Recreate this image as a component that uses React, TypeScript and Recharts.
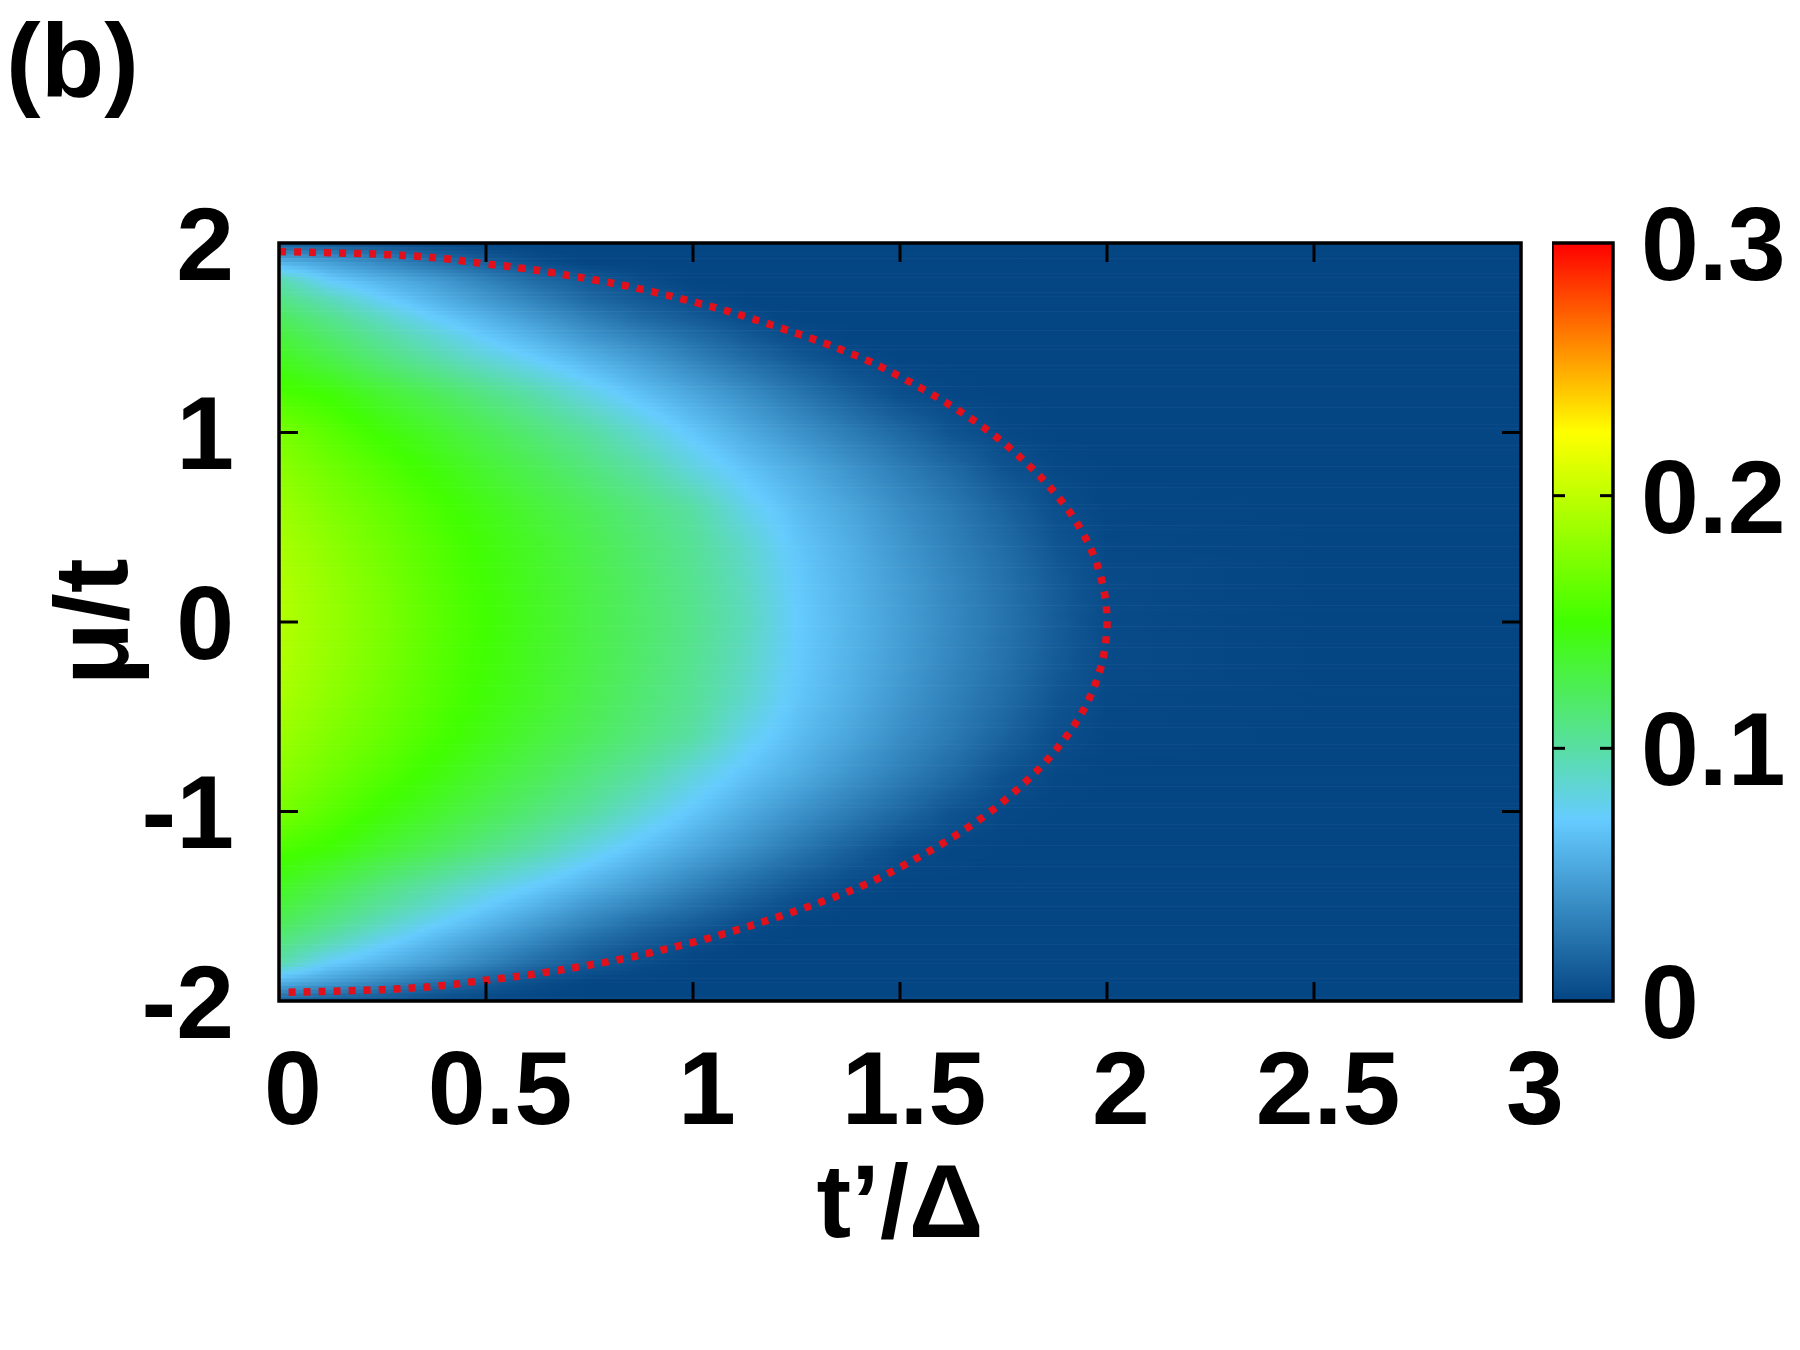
import {
  Customized,
  Label,
  ReferenceArea,
  ReferenceLine,
  Scatter,
  ScatterChart,
  XAxis,
  YAxis,
} from 'recharts';

const FONT = '"Liberation Sans", Arial, Helvetica, sans-serif';

// page / plot geometry
const W = 1800;
const H = 1350;
const PLOT_LEFT = 279;
const PLOT_TOP = 243;
const PLOT_W = 1242;
const PLOT_H = 758;
const Y_AXIS_W = 200;
const X_AXIS_H = 260;
const CB_LEFT = 1552;
const CB_W = 61;
const CB_AXIS_W = 187;
const TICK_PX = 19;

// axes
const T_MIN = 0;
const T_MAX = 3;
const MU_MIN = -2;
const MU_MAX = 2;
const xTicks = [0, 0.5, 1, 1.5, 2, 2.5, 3];
const yTicks = [-2, -1, 0, 1, 2];
const cbTicks = [0, 0.1, 0.2, 0.3];

// colour palette of the map (value -> colour)
const paletteValues = [0, 0.072, 0.15, 0.225, 0.3];
const paletteColors = ['#044583', '#66ccff', '#40ff00', '#ffff00', '#ff0000'];

// sampled map: columns in t'/Δ, rows in μ/t
const tPrimeGrid = [0, 0.125, 0.25, 0.375, 0.5, 0.625, 0.75, 0.875, 1, 1.125, 1.25, 1.375, 1.5, 1.625, 1.75, 1.875, 2, 2.5, 3];
const muGrid = [2, 1.9, 1.8, 1.7, 1.6, 1.5, 1.4, 1.2, 1, 0.8, 0.6, 0.4, 0.2, 0, -0.2, -0.4, -0.6, -0.8, -1, -1.2, -1.4, -1.5, -1.6, -1.7, -1.8, -1.9, -2];
const density = [
  [0.014, 0.010, 0.007, 0.002, 0, 0, 0, 0, 0, 0, 0, 0, 0, 0, 0, 0, 0, 0, 0],
  [0.058, 0.047, 0.035, 0.023, 0.013, 0.004, 0, 0, 0, 0, 0, 0, 0, 0, 0, 0, 0, 0, 0],
  [0.098, 0.072, 0.059, 0.047, 0.033, 0.020, 0.011, 0.004, 0, 0, 0, 0, 0, 0, 0, 0, 0, 0, 0],
  [0.110, 0.093, 0.074, 0.059, 0.045, 0.032, 0.019, 0.011, 0.004, 0, 0, 0, 0, 0, 0, 0, 0, 0, 0],
  [0.122, 0.107, 0.090, 0.073, 0.059, 0.045, 0.032, 0.020, 0.012, 0.004, 0, 0, 0, 0, 0, 0, 0, 0, 0],
  [0.132, 0.117, 0.102, 0.087, 0.071, 0.058, 0.044, 0.033, 0.022, 0.012, 0.004, 0, 0, 0, 0, 0, 0, 0, 0],
  [0.140, 0.126, 0.111, 0.097, 0.083, 0.070, 0.057, 0.045, 0.032, 0.020, 0.010, 0.003, 0, 0, 0, 0, 0, 0, 0],
  [0.155, 0.148, 0.135, 0.123, 0.110, 0.097, 0.081, 0.066, 0.053, 0.040, 0.027, 0.015, 0.005, 0.001, 0, 0, 0, 0, 0],
  [0.172, 0.160, 0.148, 0.137, 0.125, 0.113, 0.101, 0.085, 0.069, 0.055, 0.042, 0.030, 0.019, 0.008, 0.002, 0, 0, 0, 0],
  [0.180, 0.169, 0.158, 0.147, 0.135, 0.124, 0.112, 0.100, 0.083, 0.068, 0.056, 0.043, 0.031, 0.020, 0.008, 0.002, 0, 0, 0],
  [0.186, 0.175, 0.165, 0.154, 0.143, 0.132, 0.122, 0.111, 0.100, 0.079, 0.064, 0.052, 0.039, 0.028, 0.016, 0.005, 0.001, 0, 0],
  [0.191, 0.180, 0.169, 0.158, 0.147, 0.137, 0.126, 0.115, 0.104, 0.088, 0.069, 0.057, 0.044, 0.032, 0.021, 0.009, 0.002, 0, 0],
  [0.194, 0.183, 0.172, 0.160, 0.149, 0.138, 0.128, 0.117, 0.106, 0.091, 0.071, 0.059, 0.047, 0.035, 0.024, 0.012, 0.003, 0, 0],
  [0.195, 0.184, 0.173, 0.161, 0.150, 0.139, 0.128, 0.118, 0.107, 0.093, 0.072, 0.060, 0.048, 0.036, 0.025, 0.013, 0.003, 0, 0],
  [0.194, 0.183, 0.172, 0.160, 0.149, 0.138, 0.128, 0.117, 0.106, 0.091, 0.071, 0.059, 0.047, 0.035, 0.024, 0.012, 0.003, 0, 0],
  [0.191, 0.180, 0.169, 0.158, 0.147, 0.137, 0.126, 0.115, 0.104, 0.088, 0.069, 0.057, 0.044, 0.032, 0.021, 0.009, 0.002, 0, 0],
  [0.186, 0.175, 0.165, 0.154, 0.143, 0.132, 0.122, 0.111, 0.100, 0.079, 0.064, 0.052, 0.039, 0.028, 0.016, 0.005, 0.001, 0, 0],
  [0.180, 0.169, 0.158, 0.147, 0.135, 0.124, 0.112, 0.100, 0.083, 0.068, 0.056, 0.043, 0.031, 0.020, 0.008, 0.002, 0, 0, 0],
  [0.172, 0.160, 0.148, 0.137, 0.125, 0.113, 0.101, 0.085, 0.069, 0.055, 0.042, 0.030, 0.019, 0.008, 0.002, 0, 0, 0, 0],
  [0.155, 0.148, 0.135, 0.123, 0.110, 0.097, 0.081, 0.066, 0.053, 0.040, 0.027, 0.015, 0.005, 0.001, 0, 0, 0, 0, 0],
  [0.140, 0.126, 0.111, 0.097, 0.083, 0.070, 0.057, 0.045, 0.032, 0.020, 0.010, 0.003, 0, 0, 0, 0, 0, 0, 0],
  [0.132, 0.117, 0.102, 0.087, 0.071, 0.058, 0.044, 0.033, 0.022, 0.012, 0.004, 0, 0, 0, 0, 0, 0, 0, 0],
  [0.122, 0.107, 0.090, 0.073, 0.059, 0.045, 0.032, 0.020, 0.012, 0.004, 0, 0, 0, 0, 0, 0, 0, 0, 0],
  [0.110, 0.093, 0.074, 0.059, 0.045, 0.032, 0.019, 0.011, 0.004, 0, 0, 0, 0, 0, 0, 0, 0, 0, 0],
  [0.098, 0.072, 0.059, 0.047, 0.033, 0.020, 0.011, 0.004, 0, 0, 0, 0, 0, 0, 0, 0, 0, 0, 0],
  [0.058, 0.047, 0.035, 0.023, 0.013, 0.004, 0, 0, 0, 0, 0, 0, 0, 0, 0, 0, 0, 0, 0],
  [0.014, 0.010, 0.007, 0.002, 0, 0, 0, 0, 0, 0, 0, 0, 0, 0, 0, 0, 0, 0, 0],
];

// red dotted boundary
const boundaryT = [0, 0.25, 0.5, 0.75, 1, 1.2, 1.4, 1.55, 1.7, 1.8, 1.9, 1.96, 1.99, 2, 1.99, 1.96, 1.9, 1.8, 1.7, 1.55, 1.4, 1.2, 1, 0.75, 0.5, 0.25, 0];
const boundaryMu = [1.955, 1.94, 1.89, 1.81, 1.69, 1.56, 1.4, 1.235, 1.03, 0.85, 0.61, 0.39, 0.195, 0, -0.195, -0.39, -0.61, -0.85, -1.03, -1.235, -1.4, -1.56, -1.69, -1.81, -1.89, -1.94, -1.955];

const heatRows = muGrid.map((mu, row) => ({ t: T_MIN, mu, row }));
const boundaryData = boundaryT.map((t, i) => ({ t, mu: boundaryMu[i] }));
const paletteData = paletteValues.map((v) => ({ x: 0.5, v }));

const rgbOf = (hex: string) => [
  parseInt(hex.slice(1, 3), 16),
  parseInt(hex.slice(3, 5), 16),
  parseInt(hex.slice(5, 7), 16),
];
const paletteRgb = paletteColors.map(rgbOf);

const colorAt = (v: number) => {
  const last = paletteValues.length - 1;
  const x = Math.min(Math.max(v, paletteValues[0]), paletteValues[last]);
  let k = 0;
  while (k < last - 1 && x > paletteValues[k + 1]) k++;
  const a = (x - paletteValues[k]) / (paletteValues[k + 1] - paletteValues[k]);
  const c = paletteRgb[k].map((c0, n) => Math.round(c0 + (paletteRgb[k + 1][n] - c0) * a));
  return `rgb(${c[0]},${c[1]},${c[2]})`;
};

const SUB_PX = 4;
const SUB_T = 4;

// one band of the map, from this row down to the next one
const HeatBand = (props: any) => {
  const { cx, cy, payload } = props;
  const i = payload.row;
  if (i >= muGrid.length - 1) return <g />;
  const upper = density[i];
  const lower = density[i + 1];
  const bandPx = ((muGrid[i] - muGrid[i + 1]) * PLOT_H) / (MU_MAX - MU_MIN);
  const k = Math.max(1, Math.round(bandPx / SUB_PX));
  const subH = bandPx / k;
  const defs: any[] = [];
  const rects: any[] = [];
  for (let s = 0; s < k; s++) {
    const f = (s + 0.5) / k;
    const vals = upper.map((v, j) => v + (lower[j] - v) * f);
    const stops: any[] = [];
    tPrimeGrid.forEach((t0, j) => {
      stops.push(<stop key={`${j}`} offset={(t0 - T_MIN) / (T_MAX - T_MIN)} stopColor={colorAt(vals[j])} />);
      if (j < tPrimeGrid.length - 1 && vals[j] !== vals[j + 1]) {
        const t1 = tPrimeGrid[j + 1];
        for (let q = 1; q < SUB_T; q++) {
          const a = q / SUB_T;
          const tt = t0 + (t1 - t0) * a;
          const vv = vals[j] + (vals[j + 1] - vals[j]) * a;
          stops.push(<stop key={`${j}-${q}`} offset={(tt - T_MIN) / (T_MAX - T_MIN)} stopColor={colorAt(vv)} />);
        }
      }
    });
    const id = `hm-${i}-${s}`;
    defs.push(
      <linearGradient key={id} id={id} x1="0" y1="0" x2="1" y2="0">
        {stops}
      </linearGradient>
    );
    rects.push(
      <rect key={id} x={cx} y={cy + s * subH} width={PLOT_W} height={subH + 0.6} fill={`url(#${id})`} />
    );
  }
  return (
    <g>
      <defs>{defs}</defs>
      {rects}
    </g>
  );
};

const noDot = () => <g />;

const textStyle = { fontSize: 104, fontWeight: 700, fill: '#000', fontFamily: FONT };

const tickT = (TICK_PX * (T_MAX - T_MIN)) / PLOT_W;
const tickMu = (TICK_PX * (MU_MAX - MU_MIN)) / PLOT_H;
const innerX = xTicks.filter((v) => v > T_MIN && v < T_MAX);
const innerY = yTicks.filter((v) => v > MU_MIN && v < MU_MAX);
const innerCb = cbTicks.filter((v) => v > cbTicks[0] && v < cbTicks[cbTicks.length - 1]);
const cbTickX = 13 / CB_W;

const App = () => {
  return (
    <div style={{ position: 'absolute', left: 0, top: 0, width: W, height: H, background: '#fff' }}>
      <div style={{ position: 'absolute', left: 0, top: 0 }}>
        <ScatterChart
          width={W}
          height={H}
          margin={{
            top: PLOT_TOP,
            right: W - PLOT_LEFT - PLOT_W,
            bottom: H - PLOT_TOP - PLOT_H - X_AXIS_H,
            left: PLOT_LEFT - Y_AXIS_W,
          }}
        >
          <Customized
            component={
              <text x={6} y={96} fontSize={104} fontWeight={700} fontFamily={FONT} fill="#000">
                (b)
              </text>
            }
          />
          <XAxis
            type="number"
            dataKey="t"
            domain={[T_MIN, T_MAX]}
            ticks={xTicks}
            interval={0}
            allowDataOverflow
            height={X_AXIS_H}
            axisLine={false}
            tickLine={false}
            tickSize={0}
            tickMargin={49}
            tick={{ ...textStyle, dx: 14 }}
          >
            <Label value="t’/Δ" position="insideBottom" offset={24} {...textStyle} />
          </XAxis>
          <YAxis
            type="number"
            dataKey="mu"
            domain={[MU_MIN, MU_MAX]}
            ticks={yTicks}
            interval={0}
            allowDataOverflow
            width={Y_AXIS_W}
            axisLine={false}
            tickLine={false}
            tickSize={0}
            tickMargin={45}
            tick={textStyle}
          >
            <Label
              value="μ/t"
              angle={-90}
              position="insideLeft"
              offset={11}
              {...textStyle}
              style={{ textAnchor: 'middle' }}
            />
          </YAxis>
          <Scatter data={heatRows} shape={HeatBand} isAnimationActive={false} />
          <Scatter
            data={boundaryData}
            shape={noDot}
            line={{ stroke: '#e2101a', strokeWidth: 7.5, strokeDasharray: '7 8' }}
            lineType="joint"
            lineJointType="monotoneY"
            isAnimationActive={false}
          />
          <ReferenceArea
            x1={T_MIN}
            x2={T_MAX}
            y1={MU_MIN}
            y2={MU_MAX}
            fill="none"
            stroke="#000"
            strokeWidth={3.5}
            ifOverflow="visible"
            zIndex={700}
          />
          {innerX.map((v) => (
            <ReferenceLine
              key={`xb-${v}`}
              segment={[{ x: v, y: MU_MIN }, { x: v, y: MU_MIN + tickMu }]}
              stroke="#000"
              strokeWidth={3}
              ifOverflow="visible"
              zIndex={700}
            />
          ))}
          {innerX.map((v) => (
            <ReferenceLine
              key={`xt-${v}`}
              segment={[{ x: v, y: MU_MAX }, { x: v, y: MU_MAX - tickMu }]}
              stroke="#000"
              strokeWidth={3}
              ifOverflow="visible"
              zIndex={700}
            />
          ))}
          {innerY.map((v) => (
            <ReferenceLine
              key={`yl-${v}`}
              segment={[{ x: T_MIN, y: v }, { x: T_MIN + tickT, y: v }]}
              stroke="#000"
              strokeWidth={3}
              ifOverflow="visible"
              zIndex={700}
            />
          ))}
          {innerY.map((v) => (
            <ReferenceLine
              key={`yr-${v}`}
              segment={[{ x: T_MAX, y: v }, { x: T_MAX - tickT, y: v }]}
              stroke="#000"
              strokeWidth={3}
              ifOverflow="visible"
              zIndex={700}
            />
          ))}
        </ScatterChart>
      </div>
      <div style={{ position: 'absolute', left: CB_LEFT, top: 0 }}>
        <ScatterChart
          width={CB_W + CB_AXIS_W}
          height={H}
          margin={{ top: PLOT_TOP, right: 0, bottom: H - PLOT_TOP - PLOT_H, left: 0 }}
        >
          <Customized
            component={
              <defs>
                <linearGradient id="cb-grad" x1="0" y1="1" x2="0" y2="0">
                  {paletteValues.map((v, i) => (
                    <stop
                      key={v}
                      offset={v / paletteValues[paletteValues.length - 1]}
                      stopColor={paletteColors[i]}
                    />
                  ))}
                </linearGradient>
              </defs>
            }
          />
          <XAxis type="number" dataKey="x" domain={[0, 1]} hide />
          <YAxis
            type="number"
            dataKey="v"
            domain={[cbTicks[0], cbTicks[cbTicks.length - 1]]}
            ticks={cbTicks}
            interval={0}
            orientation="right"
            width={CB_AXIS_W}
            axisLine={false}
            tickLine={false}
            tickSize={0}
            tickMargin={28}
            tick={textStyle}
          />
          <Scatter data={paletteData} shape={noDot} isAnimationActive={false} />
          <ReferenceArea
            x1={0}
            x2={1}
            y1={cbTicks[0]}
            y2={cbTicks[cbTicks.length - 1]}
            fill="url(#cb-grad)"
            fillOpacity={1}
            stroke="#000"
            strokeWidth={3.5}
            ifOverflow="visible"
            zIndex={700}
          />
          {innerCb.map((v) => (
            <ReferenceLine
              key={`cl-${v}`}
              segment={[{ x: 0, y: v }, { x: cbTickX, y: v }]}
              stroke="#000"
              strokeWidth={3}
              ifOverflow="visible"
              zIndex={700}
            />
          ))}
          {innerCb.map((v) => (
            <ReferenceLine
              key={`cr-${v}`}
              segment={[{ x: 1, y: v }, { x: 1 - cbTickX, y: v }]}
              stroke="#000"
              strokeWidth={3}
              ifOverflow="visible"
              zIndex={700}
            />
          ))}
        </ScatterChart>
      </div>
    </div>
  );
};

export default App;
